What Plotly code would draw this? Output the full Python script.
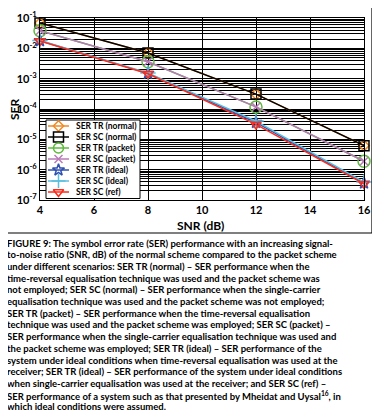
import plotly.graph_objects as go

snr = [4, 8, 12, 16]
ser_tr_normal = [0.068, 0.0070, 3.1e-4, 6.2e-6]
ser_sc_normal = [0.068, 0.0070, 3.1e-4, 6.2e-6]
ser_tr_packet = [0.038, 0.0036, 1.17e-4, 1.9e-6]
ser_sc_packet = [0.038, 0.0036, 1.17e-4, 1.9e-6]
ser_tr_ideal = [0.0178, 1.5e-3, 3.6e-5, 3.6e-7]
ser_sc_ideal = [0.0180, 1.55e-3, 4.0e-5, 3.9e-7]
ser_sc_ref = [0.0175, 1.45e-3, 3.1e-5, 3.4e-7]

names = ["SER TR (normal)", "SER SC (normal)", "SER TR (packet)", "SER SC (packet)",
         "SER TR (ideal)", "SER SC (ideal)", "SER SC (ref)"]
series = [ser_tr_normal, ser_sc_normal, ser_tr_packet, ser_sc_packet,
          ser_tr_ideal, ser_sc_ideal, ser_sc_ref]
colors = ["#F08A24", "#000000", "#5DBB3A", "#B77BB7", "#3050B0", "#5BC0E0", "#FF2A1A"]
symbols = ["diamond-open", "square-open", "circle-open", "x-thin-open", "star-open",
           "cross-thin-open", "triangle-down-open"]
sizes = [8, 10, 12, 8, 9, 11, 9]

decades = [-7, -6, -5, -4, -3, -2, -1]
y_ticktext_major = ["10<sup>-7</sup>", "10<sup>-6</sup>", "10<sup>-5</sup>", "10<sup>-4</sup>",
                    "10<sup>-3</sup>", "10<sup>-2</sup>", "10<sup>-1</sup>"]
x_tickvals = [4, 6, 8, 10, 12, 14, 16]

caption_lines = [
    "<b>FIGURE 9:</b> The symbol error rate (SER) performance with an increasing signal-",
    "to-noise ratio (SNR, dB) of the normal scheme compared to the packet scheme",
    "under different scenarios: SER TR (normal) \u2013 SER performance when the",
    "time-reversal equalisation technique was used and the packet scheme was",
    "not employed; SER SC (normal) \u2013 SER performance when the single-carrier",
    "equalisation technique was used and the packet scheme was not employed;",
    "SER TR (packet) \u2013 SER performance when the time-reversal equalisation",
    "technique was used and the packet scheme was employed; SER SC (packet) \u2013",
    "SER performance when the single-carrier equalisation technique was used and",
    "the packet scheme was employed; SER TR (ideal) \u2013 SER performance of the",
    "system under ideal conditions when time-reversal equalisation was used at the",
    "receiver; SER TR (ideal) \u2013 SER performance of the system under ideal conditions",
    "when single-carrier equalisation was used at the receiver; and SER SC (ref) \u2013",
    "SER performance of a system such as that presented by Mheidat and Uysal<sup>16</sup>, in",
    "which ideal conditions were assumed.",
]

# page offset of the default body margin
OFF = 8
W, H = 380 - OFF, 420 - OFF
# plot area in reference page pixels: x 40..364, y 18..200
PX0, PX1, PY0, PY1 = 40, 364, 18, 200
L, R = PX0 - OFF, W - (PX1 - OFF)
T, B = PY0 - OFF, H - (PY1 - OFF)
PW, PH = PX1 - PX0, PY1 - PY0


def px(x):
    return (x - PX0) / PW


def py(y):
    return (PY1 - y) / PH


y_tickvals = [10.0 ** d for d in decades]
y_ticktext = ["<b>" + t + "</b>" for t in y_ticktext_major]
y_minorvals = [k * 10.0 ** d for d in decades[:-1] for k in range(2, 10)]

fig = go.Figure()
for name, ys, c, s, sz in zip(names, series, colors, symbols, sizes):
    fig.add_trace(go.Scatter(
        x=snr, y=ys, name=name, mode="lines+markers", showlegend=False,
        cliponaxis=False,
        line=dict(color=c, width=1.5),
        marker=dict(symbol=s, size=sz, color=c, line=dict(color=c, width=1.5)),
    ))

# compact legend drawn on a second transparent subplot covering the plot area
LX0, LX1, LY0 = 46, 140, 120
ROW = 11.0
LY1 = LY0 + ROW * len(names) + 1.5
fig.add_trace(go.Scatter(
    x=[LX0, LX1, LX1, LX0, LX0], y=[LY0, LY0, LY1, LY1, LY0],
    xaxis="x2", yaxis="y2", mode="lines", fill="toself", fillcolor="white",
    line=dict(color="black", width=1), showlegend=False, hoverinfo="skip",
    cliponaxis=False))
annotations = []
for i, (name, c, s, sz) in enumerate(zip(names, colors, symbols, sizes)):
    yy = LY0 + 6 + i * ROW
    fig.add_trace(go.Scatter(
        x=[48, 69], y=[yy, yy], xaxis="x2", yaxis="y2", mode="lines",
        line=dict(color=c, width=1.5), showlegend=False, hoverinfo="skip"))
    fig.add_trace(go.Scatter(
        x=[58.5], y=[yy], xaxis="x2", yaxis="y2", mode="markers",
        marker=dict(symbol=s, size=min(sz, 10), color=c, line=dict(color=c, width=1.5)),
        showlegend=False, hoverinfo="skip"))
    annotations.append(dict(
        text="<b>" + name + "</b>", xref="paper", yref="paper", x=px(74), y=py(yy),
        xanchor="left", yanchor="middle", showarrow=False,
        font=dict(family="Lato", size=8.5, color="black")))

shapes = []
shapes.append(dict(type="rect", xref="paper", yref="paper",
                   x0=px(7), x1=px(372), y0=py(233), y1=py(6),
                   line=dict(color="black", width=1.2), layer="above"))
for xv in [5, 7, 9, 11, 13, 15]:
    shapes.append(dict(type="line", xref="x", yref="paper", x0=xv, x1=xv, y0=0, y1=1,
                       line=dict(color="white", width=1.5), layer="between"))

font_cap = dict(family="Lato", size=9.5, color="black")
for i, line in enumerate(caption_lines):
    annotations.append(dict(
        text="<b>" + line + "</b>", xref="paper", yref="paper",
        x=px(5), y=py(243 + i * 11.7), xanchor="left", yanchor="middle",
        showarrow=False, align="left", font=font_cap))

annotations.append(dict(text="<b>SNR (dB)</b>", xref="paper", yref="paper",
                        x=px(200), y=py(225), xanchor="center", yanchor="middle",
                        showarrow=False, font=dict(family="Lato", size=12, color="black")))
annotations.append(dict(text="<b>SER</b>", xref="paper", yref="paper",
                        x=px(14), y=py(110), xanchor="center", yanchor="middle",
                        textangle=-90, showarrow=False,
                        font=dict(family="Lato", size=12, color="black")))

fig.update_layout(
    width=W, height=H,
    margin=dict(l=L, r=R, t=T, b=B, autoexpand=False),
    paper_bgcolor="white", plot_bgcolor="rgba(0,0,0,0)",
    shapes=shapes, annotations=annotations,
    showlegend=False,
    font=dict(family="Lato", color="black"),
    xaxis=dict(
        domain=[0, 1], anchor="y",
        range=[4, 16], tickvals=x_tickvals, automargin=False,
        ticktext=["<b>%d</b>" % v for v in x_tickvals],
        tickfont=dict(size=11), ticks="",
        showline=True, linecolor="black", linewidth=1, mirror=True,
        showgrid=True, gridcolor="black", gridwidth=1,
    ),
    yaxis=dict(
        domain=[0, 1], anchor="x",
        type="log", range=[-7, -1], tickmode="array", tickvals=y_tickvals,
        ticktext=y_ticktext, automargin=False,
        tickfont=dict(size=11), ticks="",
        showline=True, linecolor="black", linewidth=1, mirror=True,
        showgrid=True, gridcolor="black", gridwidth=1,
        minor=dict(tickmode="array", tickvals=y_minorvals, showgrid=True,
                   gridcolor="black", gridwidth=1, ticks=""),
    ),
    xaxis2=dict(domain=[0, 1], anchor="y2", range=[PX0, PX1], autorange=False,
                visible=False, fixedrange=True, showgrid=False, zeroline=False),
    yaxis2=dict(domain=[0, 1], anchor="x2", range=[PY1, PY0], autorange=False,
                visible=False, fixedrange=True, showgrid=False, zeroline=False),
)

fig.write_html("out.html")
